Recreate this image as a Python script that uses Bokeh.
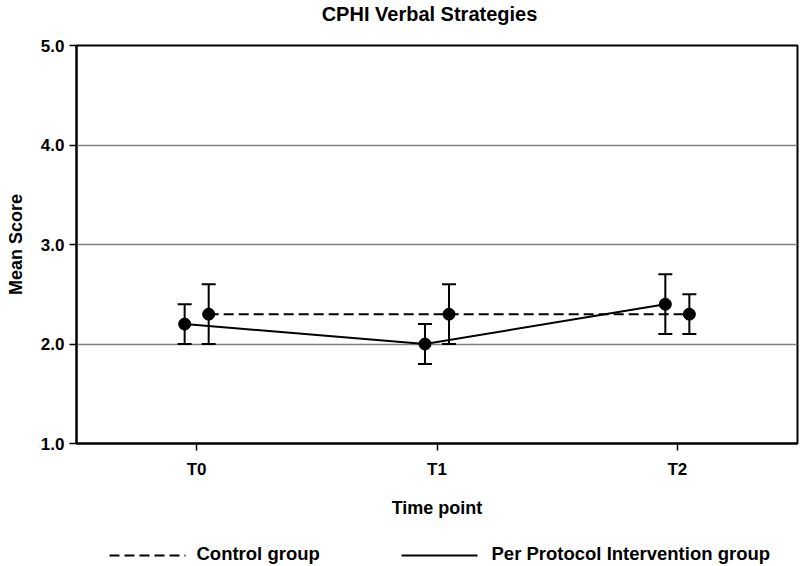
from bokeh.plotting import figure
from bokeh.layouts import column
from bokeh.models import (ColumnDataSource, Whisker, TeeHead, FixedTicker, Range1d,
                          NumeralTickFormatter)
from bokeh.core.properties import value
from bokeh.embed import file_html
from bokeh.resources import INLINE

# ---- data ----
title_text = "CPHI Verbal Strategies"
timepoints = ["T0", "T1", "T2"]
time_index = [1, 2, 3]
control_mean = [2.3, 2.3, 2.3]
control_lower = [2.0, 2.0, 2.1]
control_upper = [2.6, 2.6, 2.5]
intervention_mean = [2.2, 2.0, 2.4]
intervention_lower = [2.0, 1.8, 2.1]
intervention_upper = [2.4, 2.2, 2.7]
y_ticks = [1, 2, 3, 4, 5]
series_labels = ["Control group", "Per Protocol Intervention group"]

# ---- style / layout ----
W = 800
TOP_H, LEG_H = 30, 30
MAIN_H = 566 - TOP_H - LEG_H
BORDER_L, BORDER_R = 76, 3
DODGE = 0.05
FONT = "Liberation Sans"
CTRL_STYLE = dict(line_color="black", line_width=2, line_dash="10 5")
INTV_STYLE = dict(line_color="black", line_width=2)


def strip(height):
    # the column aligns this strip's frame with the chart's frame, so its x range
    # is expressed in page pixels of that frame
    f = figure(width=W, height=height, output_backend="svg", toolbar_location=None,
               title=None, x_range=Range1d(BORDER_L, W - BORDER_R), y_range=Range1d(0, height),
               x_axis_type=None, y_axis_type=None,
               min_border_left=BORDER_L, min_border_right=BORDER_R,
               min_border_top=0, min_border_bottom=0)
    f.outline_line_color = None
    f.xgrid.visible = False
    f.ygrid.visible = False
    return f


# ---- title strip ----
top = strip(TOP_H)
top.text(x=[429], y=[17], text=[title_text], text_align="center", text_baseline="middle",
         text_font=value(FONT), text_font_size="20px", text_font_style="bold",
         text_color="black")

# ---- main chart ----
ctrl = ColumnDataSource(dict(x=[t + DODGE for t in time_index], y=control_mean,
                             lo=control_lower, hi=control_upper))
intv = ColumnDataSource(dict(x=[t - DODGE for t in time_index], y=intervention_mean,
                             lo=intervention_lower, hi=intervention_upper))

p = figure(width=W, height=MAIN_H, output_backend="svg", toolbar_location=None, title=None,
           x_range=Range1d(0.5, 3.5), y_range=Range1d(1, 5),
           min_border_left=BORDER_L, min_border_right=BORDER_R,
           min_border_top=15, min_border_bottom=93)

p.line("x", "y", source=ctrl, **CTRL_STYLE)
p.line("x", "y", source=intv, **INTV_STYLE)

for src in (ctrl, intv):
    w = Whisker(base="x", upper="hi", lower="lo", source=src, dimension="height",
                line_color="black", line_width=2,
                upper_head=TeeHead(size=14, line_width=2, line_color="black"),
                lower_head=TeeHead(size=14, line_width=2, line_color="black"))
    p.add_layout(w)
    p.scatter("x", "y", source=src, size=12, color="black")

p.xaxis.ticker = FixedTicker(ticks=time_index)
p.xaxis.major_label_overrides = {t: lab for t, lab in zip(time_index, timepoints)}
p.yaxis.ticker = FixedTicker(ticks=y_ticks)
p.yaxis.formatter = NumeralTickFormatter(format="0.0")
p.xaxis.axis_label = "Time point"
p.yaxis.axis_label = "Mean Score"
for ax in (p.xaxis, p.yaxis):
    ax.axis_line_width = 2
    ax.axis_line_color = "black"
    ax.major_tick_line_width = 1.5
    ax.major_tick_line_color = "black"
    ax.major_tick_out = 7
    ax.major_tick_in = 0
    ax.minor_tick_line_color = None
    ax.major_label_text_font = FONT
    ax.major_label_text_font_size = "17px"
    ax.major_label_text_font_style = "bold"
    ax.major_label_text_color = "black"
    ax.axis_label_text_font = FONT
    ax.axis_label_text_font_size = "18px"
    ax.axis_label_text_font_style = "bold"
    ax.axis_label_text_color = "black"
p.xaxis.major_label_standoff = 9
p.xaxis.axis_label_standoff = 16
p.yaxis.major_label_standoff = 5
p.yaxis.axis_label_standoff = 12

p.xgrid.grid_line_color = None
p.ygrid.ticker = FixedTicker(ticks=y_ticks)
p.ygrid.grid_line_color = "#808080"
p.ygrid.grid_line_width = 1.5

p.outline_line_color = "black"
p.outline_line_width = 2
p.outline_line_alpha = 1

# ---- legend strip ----
leg = strip(LEG_H)
KEY_Y, TEXT_Y = 11, 13
keys = [(109, 185, CTRL_STYLE, 196), (401, 477, INTV_STYLE, 491)]
for (x0, x1, style, tx), label in zip(keys, series_labels):
    leg.line(x=[x0, x1], y=[KEY_Y, KEY_Y], **style)
    leg.text(x=[tx], y=[TEXT_Y], text=[label], text_align="left", text_baseline="middle",
             text_font=value(FONT), text_font_size="18.5px", text_font_style="bold",
             text_color="black")

layout = column(top, p, leg, spacing=0)
open("out.html", "w").write(file_html(layout, INLINE))
